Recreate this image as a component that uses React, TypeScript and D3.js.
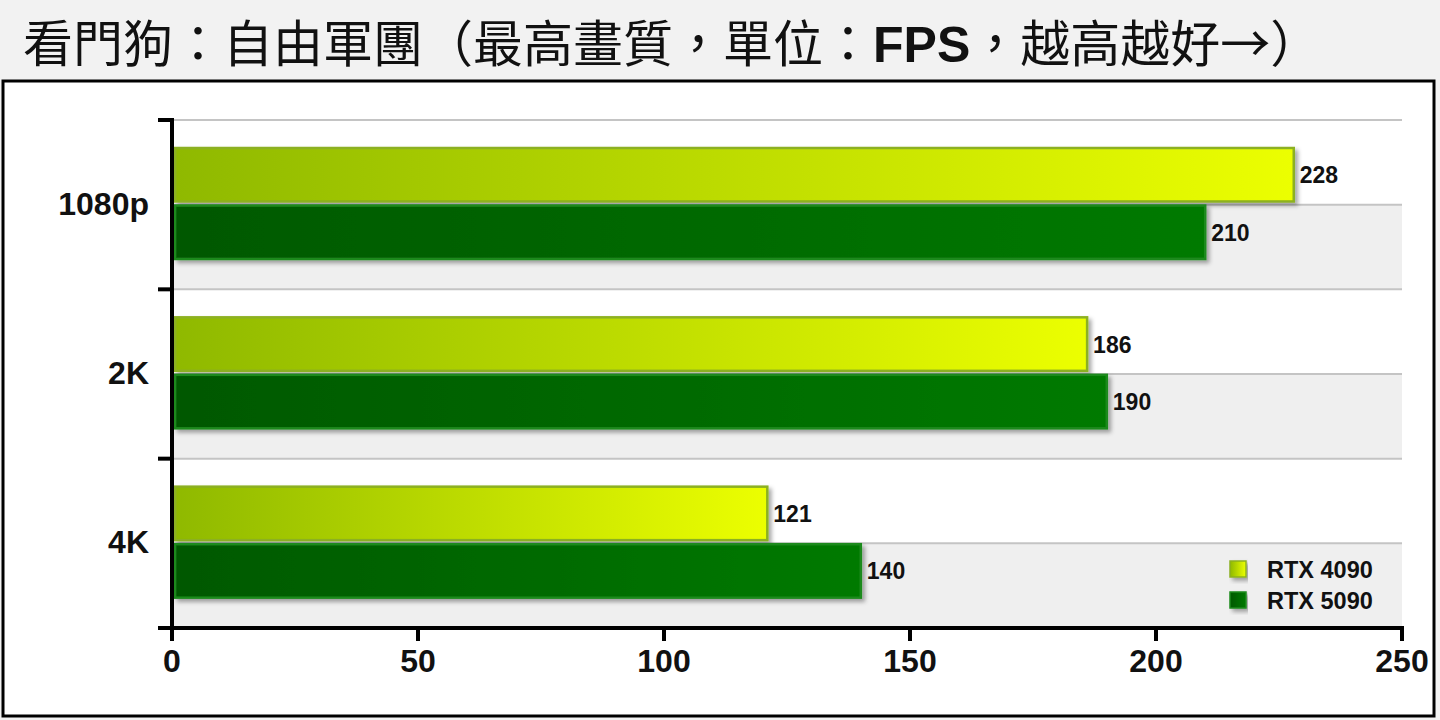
import * as d3 from "d3";

const categories = ["1080p", "2K", "4K"];
const seriesNames = ["RTX 4090", "RTX 5090"];
const rtx4090 = [228, 186, 121];
const rtx5090 = [210, 190, 140];
const xTicks = [0, 50, 100, 150, 200, 250];
const titleParts = [
  { text: "看門狗：自由軍團（最高畫質，單位：", bold: false },
  { text: "FPS", bold: true },
  { text: "，越高越好→）", bold: false },
];

const W = 1440;
const H = 720;
const CJK = "'Noto Sans CJK TC', 'Noto Sans CJK SC', sans-serif";
const SANS = "'Liberation Sans', Arial, sans-serif";

const App = () => {
  const x = d3.scaleLinear().domain([0, 250]).range([172, 1402]);
  const y = d3.scaleBand().domain(categories).range([120, 628]).padding(0);
  const bw = y.bandwidth();
  const inner = d3
    .scaleBand()
    .domain(seriesNames)
    .range([28, 139])
    .paddingInner(0.07);

  const values = [rtx4090, rtx5090];
  const fills = ["url(#gYellow)", "url(#gGreen)"];
  const strokes = ["#8cb020", "#1d8a1d"];

  return (
    <svg
      width={W}
      height={H}
      viewBox={`0 0 ${W} ${H}`}
      style={{ position: "absolute", left: 0, top: 0 }}
    >
      <defs>
        <linearGradient id="gYellow" x1="0" x2="1" y1="0" y2="0">
          <stop offset="0%" stopColor="#8fb900" />
          <stop offset="100%" stopColor="#ecff00" />
        </linearGradient>
        <linearGradient id="gGreen" x1="0" x2="1" y1="0" y2="0">
          <stop offset="0%" stopColor="#005800" />
          <stop offset="100%" stopColor="#007a00" />
        </linearGradient>
        <filter id="shadow" x="-5%" y="-20%" width="115%" height="160%">
          <feDropShadow dx="3" dy="3" stdDeviation="2" floodColor="#000" floodOpacity="0.35" />
        </filter>
      </defs>

      <rect x={0} y={0} width={W} height={H} fill="#f2f2f2" />
      <text x={23} y={62} fontSize={50} fontFamily={CJK} fill="#111">
        {titleParts.map((p, i) => (
          <tspan
            key={i}
            fontFamily={p.bold ? SANS : CJK}
            fontWeight={p.bold ? "bold" : "normal"}
          >
            {p.text}
          </tspan>
        ))}
      </text>

      <rect x={3} y={81} width={1431} height={635} fill="#fff" stroke="#000" strokeWidth={3} />

      {/* alternating bands and grid */}
      {categories.map((c) => (
        <g key={c}>
          <rect
            x={x(0) + 2}
            y={(y(c) as number) + bw / 2}
            width={x(250) - x(0) - 2}
            height={bw / 2}
            fill="#efefef"
          />
          <line
            x1={x(0) + 2}
            x2={x(250)}
            y1={y(c) as number}
            y2={y(c) as number}
            stroke="#c4c4c4"
            strokeWidth={2}
          />
          <line
            x1={x(0) + 2}
            x2={x(250)}
            y1={(y(c) as number) + bw / 2}
            y2={(y(c) as number) + bw / 2}
            stroke="#c4c4c4"
            strokeWidth={2}
          />
        </g>
      ))}

      {/* bars */}
      {categories.map((c, ci) =>
        seriesNames.map((s, si) => {
          const top = (y(c) as number) + (inner(s) as number);
          const v = values[si][ci];
          return (
            <g key={c + s}>
              <rect
                x={x(0) + 3}
                y={top}
                width={x(v) - x(0) - 3}
                height={inner.bandwidth()}
                fill={fills[si]}
                stroke={strokes[si]}
                strokeWidth={2.5}
                filter="url(#shadow)"
              />
              <text
                x={x(v) + 6}
                y={top + inner.bandwidth() / 2 + 8.5}
                fontSize={23}
                fontWeight="bold"
                fontFamily={SANS}
                fill="#111"
              >
                {v}
              </text>
            </g>
          );
        })
      )}

      {/* y axis */}
      <line x1={x(0)} x2={x(0)} y1={118} y2={640} stroke="#000" strokeWidth={4} />
      {categories.map((c) => (
        <line
          key={c}
          x1={158}
          x2={x(0)}
          y1={y(c) as number}
          y2={y(c) as number}
          stroke="#000"
          strokeWidth={4}
        />
      ))}
      {categories.map((c) => (
        <text
          key={c}
          x={149}
          y={(y(c) as number) + bw / 2 + 10}
          textAnchor="end"
          fontSize={32}
          fontWeight="bold"
          fontFamily={SANS}
          fill="#111"
        >
          {c}
        </text>
      ))}

      {/* x axis */}
      <line x1={158} x2={x(250) + 2} y1={628} y2={628} stroke="#000" strokeWidth={4} />
      {xTicks.map((t) => (
        <g key={t}>
          <line x1={x(t)} x2={x(t)} y1={628} y2={641} stroke="#000" strokeWidth={4} />
          <text
            x={x(t)}
            y={672}
            textAnchor="middle"
            fontSize={32}
            fontWeight="bold"
            fontFamily={SANS}
            fill="#111"
          >
            {t}
          </text>
        </g>
      ))}

      {/* legend */}
      {seriesNames.map((s, i) => (
        <g key={s}>
          <rect
            x={1230}
            y={561 + i * 31}
            width={16}
            height={16}
            fill={fills[i]}
            stroke={strokes[i]}
            strokeWidth={1.5}
            filter="url(#shadow)"
          />
          <text
            x={1267}
            y={578 + i * 31}
            fontSize={23.5}
            fontWeight="bold"
            fontFamily={SANS}
            fill="#111"
          >
            {s}
          </text>
        </g>
      ))}
    </svg>
  );
};

export default App;
